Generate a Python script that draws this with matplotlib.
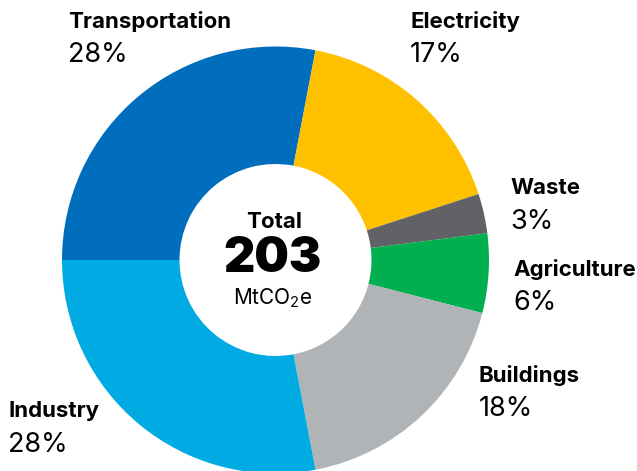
import matplotlib
matplotlib.use("Agg")
import matplotlib.pyplot as plt

# data -----------------------------------------------
sectors = ["Transportation", "Electricity", "Waste", "Agriculture", "Buildings", "Industry"]
shares = [28, 17, 3, 6, 18, 28]
colors = ["#006EBD", "#FFC000", "#606266", "#00B050", "#B1B4B6", "#00ABE3"]
total = 203

# label anchors in pixel coords (left, top-line centre)
label_pos = {
    "Transportation": (68, 21),
    "Electricity": (410, 21),
    "Waste": (510, 188),
    "Agriculture": (513, 269),
    "Buildings": (479, 375),
    "Industry": (8, 411),
}

W, H = 637, 471
FONT = ["Inter", "DejaVu Sans"]
plt.rcParams["font.family"] = FONT
plt.rcParams["mathtext.fontset"] = "custom"
plt.rcParams["mathtext.rm"] = "Inter"

fig = plt.figure(figsize=(W / 100, H / 100), dpi=100)
ax = fig.add_axes([0, 0, 1, 1])

cx, cy, r_out, r_in = 275.5, H - 260, 213.5, 96
ax.pie(shares, colors=colors, startangle=180, counterclock=False,
       center=(cx, cy), radius=r_out, frame=True,
       wedgeprops=dict(width=r_out - r_in, linewidth=0))
ax.set_xlim(0, W)
ax.set_ylim(0, H)
ax.set_aspect("equal")
ax.axis("off")

for name, val in zip(sectors, shares):
    x, y = label_pos[name]
    ax.text(x, H - y, name, fontsize=16, fontweight="bold", ha="left", va="center")
    ax.text(x, H - y - 34, f"{val}%", fontsize=19.5, ha="left", va="center")

# centre text
ax.text(cx - 1, H - 222, "Total", fontsize=16, fontweight="bold", ha="center", va="center")
ax.text(cx - 3, H - 259, str(total), fontsize=35, fontweight="black", ha="center", va="center")
ax.text(cx - 3, H - 298, "MtCO$_2$e", fontsize=15, ha="center", va="center")

fig.savefig("out.png", dpi=100)
